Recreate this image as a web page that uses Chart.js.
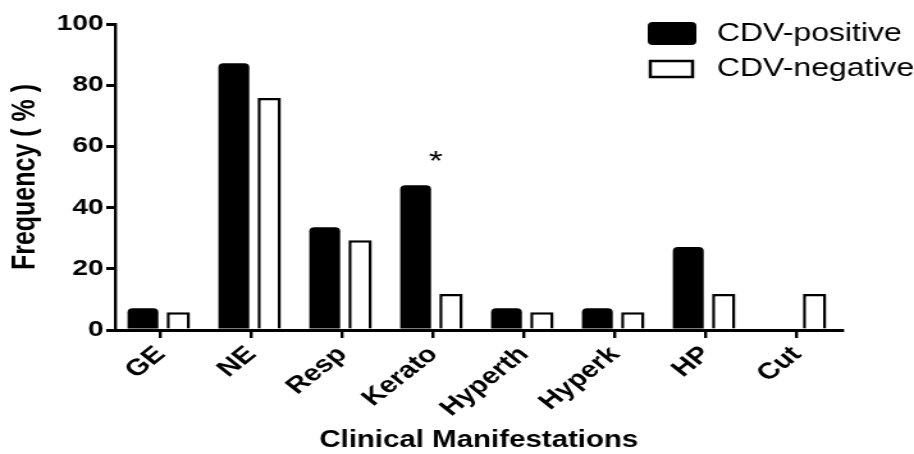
<!DOCTYPE html>
<html>
<head>
<meta charset="utf-8">
<script src="https://cdn.jsdelivr.net/npm/chart.js@4"></script>
<style>
  body { margin: 0; background: #fff; }
</style>
</head>
<body>
<!-- drawn narrower and stretched sideways, like the source figure -->
<canvas id="c" width="714" height="454" style="display:block;width:914px;height:454px"></canvas>
<script>
const categories = ["GE", "NE", "Resp", "Kerato", "Hyperth", "Hyperk", "HP", "Cut"];
const cdvPositive = [7.1, 87.2, 33.6, 47.3, 7.1, 7.1, 27.1, 0];
const cdvNegative = [5.8, 75.8, 29.3, 11.8, 5.8, 5.8, 11.8, 11.8];
const starred = ["Kerato"]; // significant difference marks
const yTicks = [0, 20, 40, 60, 80, 100];

const FONT = "'Liberation Sans', Arial, sans-serif";

// legend drawn top right, inside the plot area
const boxLegend = {
  id: "boxLegend",
  afterDraw(chart) {
    const ctx = chart.ctx;
    const rows = [
      { x: 506, y: 22, w: 38, h: 23, ty: 34 },
      { x: 508, y: 61, w: 33, h: 16, ty: 69 },
    ];
    chart.data.datasets.forEach((ds, i) => {
      const r = rows[i];
      ctx.save();
      ctx.fillStyle = ds.backgroundColor;
      ctx.strokeStyle = "#000";
      ctx.lineWidth = ds.borderWidth ? 2.5 : 0;
      ctx.beginPath();
      ctx.roundRect(r.x, r.y, r.w, r.h, ds.borderWidth ? 0 : 4);
      ctx.fill();
      if (ds.borderWidth) ctx.stroke();
      ctx.fillStyle = "#000";
      ctx.font = "25px " + FONT;
      ctx.textBaseline = "middle";
      ctx.fillText(ds.label, 560, r.ty);
      ctx.restore();
    });
  },
};

// asterisk above starred categories
const starMarks = {
  id: "starMarks",
  afterDatasetsDraw(chart) {
    const ctx = chart.ctx;
    const meta = chart.getDatasetMeta(0);
    ctx.save();
    ctx.fillStyle = "#000";
    ctx.font = "28px " + FONT;
    ctx.textAlign = "center";
    ctx.textBaseline = "bottom";
    starred.forEach((c) => {
      const i = categories.indexOf(c);
      const bar = meta.data[i];
      const x = chart.scales.x.getPixelForValue(i) + 2;
      ctx.fillText("*", x, bar.y - 9);
    });
    ctx.restore();
  },
};

const ctx = document.getElementById("c").getContext("2d");

new Chart(ctx, {
  type: "bar",
  data: {
    labels: categories,
    datasets: [
      {
        label: "CDV-positive",
        data: cdvPositive,
        backgroundColor: "#000",
        borderWidth: 0,
        borderRadius: { topLeft: 4, topRight: 4 },
        borderSkipped: "bottom",
        barPercentage: 0.87,
        categoryPercentage: 0.78,
      },
      {
        label: "CDV-negative",
        data: cdvNegative,
        backgroundColor: "#fff",
        borderColor: "#000",
        borderWidth: 2.5,
        borderSkipped: "bottom",
        barPercentage: 0.66,
        categoryPercentage: 0.78,
      },
    ],
  },
  options: {
    responsive: false,
    devicePixelRatio: 1,
    animation: false,
    layout: { padding: { top: 24, right: 56, left: 0, bottom: 0 } },
    plugins: {
      legend: { display: false },
      tooltip: { enabled: false },
    },
    scales: {
      x: {
        offset: true,
        afterFit(scale) { scale.height = 124; },
        border: { display: true, color: "#000", width: 3 },
        grid: {
          offset: false,
          drawOnChartArea: false,
          drawTicks: true,
          tickLength: 8,
          color: "#000",
          lineWidth: 2.4,
        },
        ticks: {
          color: "#000",
          font: { family: FONT, size: 23, weight: "bold" },
          minRotation: 45,
          maxRotation: 45,
          padding: 3,
          autoSkip: false,
        },
        title: {
          display: true,
          text: "Clinical Manifestations",
          color: "#000",
          font: { family: FONT, size: 23, weight: "bold" },
          padding: { top: 0, bottom: 0 },
        },
      },
      y: {
        min: 0,
        max: 100,
        afterFit(scale) { scale.width = 90; },
        afterBuildTicks(scale) { scale.ticks = yTicks.map((v) => ({ value: v })); },
        border: { display: true, color: "#000", width: 2.4 },
        grid: {
          drawOnChartArea: false,
          drawTicks: true,
          tickLength: 7,
          color: "#000",
          lineWidth: 3,
        },
        ticks: {
          color: "#000",
          font: { family: FONT, size: 22, weight: "bold" },
          padding: 2,
        },
        title: {
          display: true,
          text: "Frequency ( % )",
          color: "#000",
          font: { family: FONT, size: 25, weight: "bold" },
          padding: { top: 5, bottom: 0 },
        },
      },
    },
  },
  plugins: [boxLegend, starMarks],
});
</script>
</body>
</html>
